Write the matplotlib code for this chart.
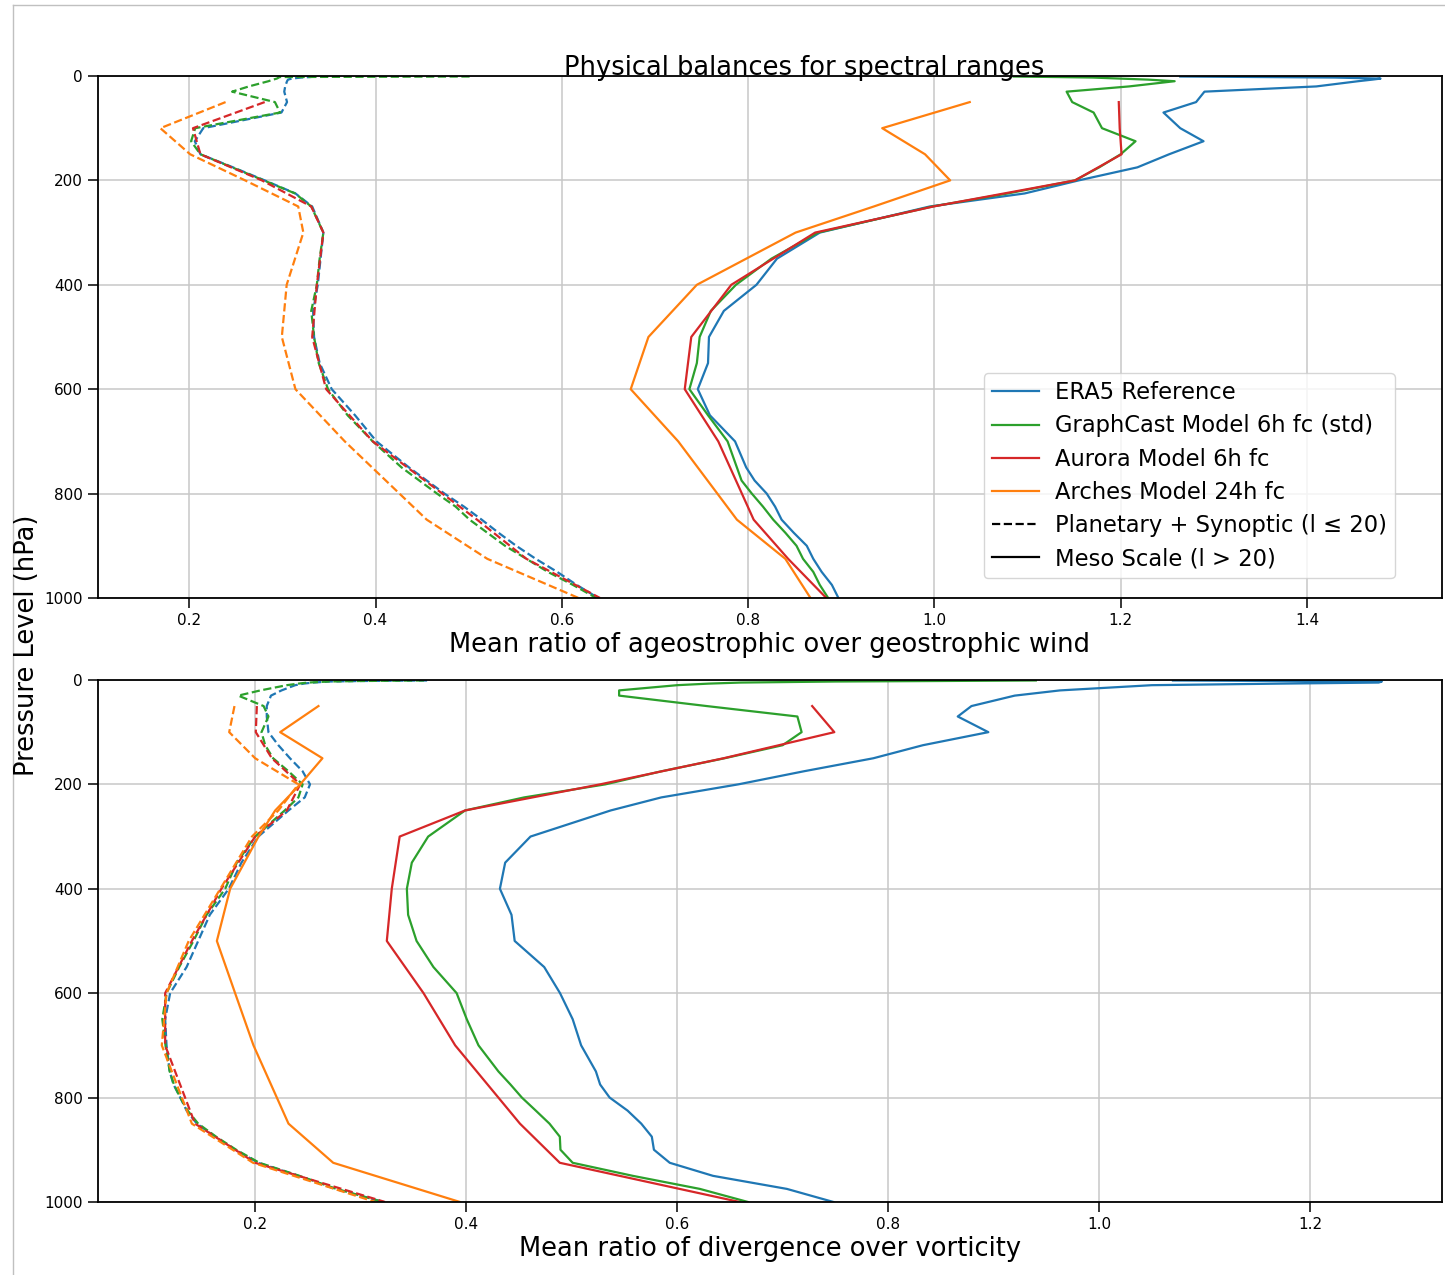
import matplotlib
matplotlib.use("Agg")
import matplotlib.pyplot as plt
from matplotlib.lines import Line2D

# pressure levels (hPa)
levels37 = [1, 2, 3, 5, 7, 10, 20, 30, 50, 70, 100, 125, 150, 175, 200, 225, 250,
            300, 350, 400, 450, 500, 550, 600, 650, 700, 750, 775, 800, 825, 850,
            875, 900, 925, 950, 975, 1000]
levels13 = [50, 100, 150, 200, 250, 300, 400, 500, 600, 700, 850, 925, 1000]

# ageostrophic / geostrophic wind ratio, meso scale (l > 20)
ageo_era5_meso = [1.264, 1.35, 1.43, 1.479, 1.47, 1.455, 1.41, 1.29, 1.281, 1.246, 1.264,
                  1.289, 1.252, 1.218, 1.155, 1.097, 0.995, 0.877, 0.831, 0.809, 0.774,
                  0.758, 0.757, 0.746, 0.759, 0.786, 0.798, 0.807, 0.820, 0.829, 0.836,
                  0.849, 0.863, 0.870, 0.879, 0.890, 0.897]
ageo_graphcast_meso = [1.085, 1.13, 1.17, 1.20, 1.23, 1.258, 1.209, 1.142, 1.148, 1.171,
                       1.180, 1.216, 1.200, 1.177, 1.151, 1.079, 0.998, 0.875, 0.825,
                       0.787, 0.760, 0.748, 0.745, 0.737, 0.757, 0.778, 0.788, 0.793,
                       0.804, 0.816, 0.827, 0.840, 0.852, 0.859, 0.870, 0.877, 0.886]
ageo_aurora_meso = [1.198, 1.199, 1.201, 1.151, 0.999, 0.872, 0.782, 0.739, 0.732, 0.768,
                    0.806, 0.843, 0.884]
ageo_arches_meso = [1.038, 0.944, 0.990, 1.017, 0.935, 0.851, 0.745, 0.693, 0.674, 0.725,
                    0.788, 0.840, 0.867]

# ageostrophic / geostrophic wind ratio, planetary + synoptic (l <= 20)
ageo_era5_syn = [0.335, 0.33, 0.32, 0.31, 0.306, 0.305, 0.303, 0.302, 0.305, 0.299, 0.215,
                 0.206, 0.212, 0.247, 0.281, 0.314, 0.332, 0.344, 0.341, 0.338, 0.333,
                 0.334, 0.340, 0.353, 0.378, 0.401, 0.436, 0.455, 0.474, 0.495, 0.514,
                 0.532, 0.551, 0.572, 0.595, 0.616, 0.639]
ageo_graphcast_syn = [0.501, 0.296, 0.296, 0.294, 0.29, 0.285, 0.264, 0.246, 0.292, 0.2975,
                      0.2064, 0.202, 0.212, 0.246, 0.280, 0.3136, 0.331, 0.344, 0.340,
                      0.337, 0.331, 0.334, 0.339, 0.349, 0.370, 0.397, 0.428, 0.447,
                      0.466, 0.486, 0.501, 0.520, 0.539, 0.562, 0.585, 0.612, 0.637]
ageo_aurora_syn = [0.281, 0.204, 0.212, 0.278, 0.331, 0.344, 0.337, 0.332, 0.347, 0.397,
                   0.509, 0.562, 0.641]
ageo_arches_syn = [0.239, 0.169, 0.201, 0.260, 0.317, 0.3225, 0.3046, 0.2994, 0.314, 0.367,
                   0.455, 0.520, 0.618]

# divergence / vorticity ratio, meso scale (l > 20)
div_era5_meso = [1.07, 1.17, 1.268, 1.265, 1.173, 1.05, 0.963, 0.92, 0.879, 0.866, 0.895,
                 0.833, 0.786, 0.72, 0.658, 0.585, 0.537, 0.461, 0.437, 0.432, 0.443,
                 0.446, 0.474, 0.489, 0.501, 0.509, 0.523, 0.527, 0.536, 0.553, 0.566,
                 0.576, 0.578, 0.593, 0.634, 0.704, 0.748]
div_graphcast_meso = [0.94, 0.85, 0.75, 0.66, 0.63, 0.60, 0.545, 0.545, 0.628, 0.714,
                      0.718, 0.70, 0.645, 0.585, 0.532, 0.455, 0.399, 0.364, 0.3485,
                      0.3438, 0.345, 0.353, 0.369, 0.391, 0.4006, 0.4117, 0.4306, 0.442,
                      0.4528, 0.466, 0.479, 0.4888, 0.4894, 0.501, 0.558, 0.6215, 0.667]
div_aurora_meso = [0.728, 0.749, 0.644, 0.527, 0.399, 0.337, 0.3295, 0.3248, 0.3596,
                   0.3896, 0.451, 0.4888, 0.659]
div_arches_meso = [0.26, 0.2237, 0.2638, 0.2427, 0.219, 0.2032, 0.1763, 0.1637, 0.181,
                   0.1984, 0.2316, 0.274, 0.394]

# divergence / vorticity ratio, planetary + synoptic (l <= 20)
div_era5_syn = [0.363, 0.30, 0.27, 0.255, 0.246, 0.238, 0.225, 0.215, 0.211, 0.211,
                0.2126, 0.222, 0.233, 0.245, 0.252, 0.247, 0.2316, 0.203, 0.187, 0.175,
                0.157, 0.146, 0.135, 0.1194, 0.1147, 0.116, 0.119, 0.1226, 0.129, 0.135,
                0.1447, 0.162, 0.181, 0.203, 0.241, 0.2758, 0.3216]
div_graphcast_syn = [0.36, 0.30, 0.27, 0.25, 0.241, 0.23, 0.205, 0.184, 0.208, 0.2126,
                     0.206, 0.2095, 0.217, 0.2316, 0.245, 0.241, 0.228, 0.20, 0.1826,
                     0.1716, 0.154, 0.1415, 0.128, 0.116, 0.112, 0.115, 0.119, 0.123,
                     0.129, 0.136, 0.146, 0.163, 0.182, 0.204, 0.242, 0.277, 0.321]
div_aurora_syn = [0.2016, 0.2006, 0.2158, 0.2427, 0.230, 0.20, 0.168, 0.14, 0.1147, 0.1147,
                  0.143, 0.20, 0.323]
div_arches_syn = [0.1804, 0.1754, 0.2, 0.241, 0.222, 0.197, 0.167, 0.137, 0.116, 0.1115,
                  0.14, 0.198, 0.3137]

model_names = ["ERA5 Reference", "GraphCast Model 6h fc (std)", "Aurora Model 6h fc",
               "Arches Model 24h fc"]
model_colors = ["tab:blue", "tab:green", "tab:red", "tab:orange"]

panels = [
    {
        "levels": [levels37, levels37, levels13, levels13],
        "meso": [ageo_era5_meso, ageo_graphcast_meso, ageo_aurora_meso, ageo_arches_meso],
        "syn": [ageo_era5_syn, ageo_graphcast_syn, ageo_aurora_syn, ageo_arches_syn],
        "xlabel": "Mean ratio of ageostrophic over geostrophic wind",
        "xlim": (0.102, 1.545),
    },
    {
        "levels": [levels37, levels37, levels13, levels13],
        "meso": [div_era5_meso, div_graphcast_meso, div_aurora_meso, div_arches_meso],
        "syn": [div_era5_syn, div_graphcast_syn, div_aurora_syn, div_arches_syn],
        "xlabel": "Mean ratio of divergence over vorticity",
        "xlim": (0.051, 1.325),
    },
]

fig = plt.figure(figsize=(14.45, 12.75), dpi=100)
ax_top = fig.add_axes([0.0678, 0.5310, 0.9301, 0.4094])
ax_bot = fig.add_axes([0.0678, 0.0573, 0.9301, 0.4094])

for ax, panel in zip([ax_top, ax_bot], panels):
    for lev, meso, syn, color in zip(panel["levels"], panel["meso"], panel["syn"], model_colors):
        ax.plot(syn, lev, color=color, linestyle="--", linewidth=1.6)
        ax.plot(meso, lev, color=color, linestyle="-", linewidth=1.6)
    ax.set_ylim(1000, 0)
    ax.set_xlim(*panel["xlim"])
    ax.set_yticks([0, 200, 400, 600, 800, 1000])
    ax.grid(True, color="#c8c8c8", linewidth=1.1)
    ax.tick_params(labelsize=11, length=7, width=1.1, pad=4)
    for spine in ax.spines.values():
        spine.set_linewidth(1.3)
    ax.set_xlabel(panel["xlabel"], fontsize=18.5, va="baseline")
    ax.xaxis.set_label_coords(0.5, -0.1034)

handles = [Line2D([0], [0], color=c, linewidth=1.6) for c in model_colors]
handles += [Line2D([0], [0], color="black", linestyle="--", linewidth=1.6),
            Line2D([0], [0], color="black", linestyle="-", linewidth=1.6)]
labels = model_names + ["Planetary + Synoptic (l \u2264 20)", "Meso Scale (l > 20)"]
ax_top.legend(handles, labels, loc="lower right", bbox_to_anchor=(0.965, 0.038),
              borderaxespad=0, fontsize=16.3, handlelength=2.1, handletextpad=0.7,
              borderpad=0.35, labelspacing=0.45)

fig.text(804 / 1445, 1 - 75 / 1275, "Physical balances for spectral ranges",
         fontsize=18.5, ha="center", va="baseline")
fig.text(27 / 1445, 1 - 645 / 1275, "Pressure Level (hPa)", fontsize=18.5,
         rotation=90, ha="center", va="center")

# thin frame around the figure
fig.add_artist(Line2D([13 / 1445, 13 / 1445], [0, 1 - 5 / 1275], transform=fig.transFigure,
                      color="#c0c0c0", linewidth=1))
fig.add_artist(Line2D([13 / 1445, 1], [1 - 5 / 1275, 1 - 5 / 1275], transform=fig.transFigure,
                      color="#c0c0c0", linewidth=1))

fig.savefig("out.png", dpi=100)
plt.close(fig)
